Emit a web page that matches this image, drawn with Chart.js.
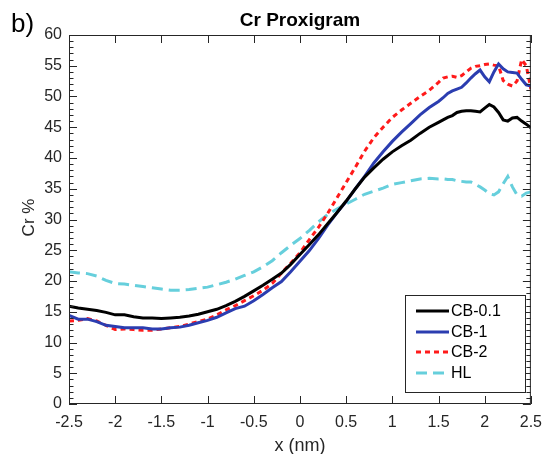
<!DOCTYPE html>
<html>
<head>
<meta charset="utf-8">
<script src="https://cdn.jsdelivr.net/npm/chart.js@4"></script>
<style>
  html, body { margin: 0; padding: 0; background: #fff; }
  #wrap { width: 551px; height: 454px; position: relative; }
</style>
</head>
<body>
<div id="wrap"><canvas id="prox"></canvas></div>
<script>
// ---- data ----
const xs = [
  -2.5, -2.4, -2.3, -2.2, -2.1, -2.0, -1.9, -1.8, -1.7, -1.6, -1.5, -1.4, -1.3, -1.2, -1.1,
  -1.0, -0.9, -0.8, -0.7, -0.6, -0.5, -0.4, -0.3, -0.2, -0.1, 0.0, 0.1, 0.2, 0.3, 0.4,
  0.5, 0.6, 0.7, 0.8, 0.9, 1.0, 1.1, 1.2, 1.3, 1.4, 1.5,
  1.55, 1.6, 1.65, 1.7, 1.75, 1.8, 1.85, 1.9, 1.95, 2.0, 2.05, 2.1, 2.15, 2.2, 2.25, 2.3, 2.35, 2.4, 2.45, 2.5
];
const cb01 = [
  15.9, 15.6, 15.4, 15.2, 14.9, 14.5, 14.5, 14.2, 14.0, 14.0, 13.9, 14.0, 14.1, 14.3, 14.6,
  15.0, 15.4, 16.0, 16.7, 17.5, 18.4, 19.3, 20.3, 21.3, 22.7, 24.3, 25.9, 27.5, 29.3, 31.1,
  33.0, 35.0, 36.9, 38.4, 39.8, 41.0, 42.0, 42.9, 44.0, 45.0, 45.8,
  46.2, 46.6, 46.9, 47.4, 47.6, 47.7, 47.7, 47.6, 47.5, 48.1, 48.7, 48.3, 47.4, 46.2, 46.0, 46.5, 46.6, 46.0, 45.5, 44.9
];
const cb1 = [
  14.4, 13.8, 13.8, 13.4, 12.8, 12.6, 12.4, 12.4, 12.4, 12.2, 12.2, 12.4, 12.5, 12.8, 13.2,
  13.6, 14.1, 14.8, 15.5, 15.9, 16.8, 17.8, 18.9, 19.9, 21.5, 23.2, 24.9, 26.9, 29.1, 31.1,
  32.9, 35.0, 37.0, 39.2, 41.0, 42.7, 44.2, 45.6, 47.0, 48.2, 49.2,
  49.8, 50.5, 50.9, 51.2, 51.5, 52.2, 53.0, 53.7, 54.3, 53.2, 52.4, 54.0, 55.3, 54.5, 54.0, 53.9, 53.8, 52.8, 51.9, 51.7
];
const cb2 = [
  13.5, 13.6, 13.9, 13.5, 12.8, 12.1, 12.2, 12.1, 12.0, 12.0, 12.2, 12.4, 12.6, 13.0, 13.4,
  13.8, 14.5, 15.3, 16.0, 16.8, 17.6, 18.5, 19.6, 21.3, 22.9, 24.6, 26.7, 28.7, 31.0, 33.5,
  36.0, 38.5, 41.1, 43.3, 45.0, 46.6, 47.8, 48.9, 50.0, 51.0, 52.3,
  53.0, 53.2, 53.3, 53.1, 53.4, 54.0, 54.6, 54.9, 55.0, 55.2, 55.3, 55.1, 55.0, 52.6, 52.0, 51.7, 52.5, 56.0, 55.0, 51.2
];
const hl = [
  21.5, 21.3, 21.2, 20.8, 20.1, 19.6, 19.5, 19.3, 19.1, 18.9, 18.7, 18.5, 18.5, 18.6, 18.8,
  19.0, 19.4, 19.8, 20.3, 20.9, 21.5, 22.3, 23.3, 24.6, 25.8, 26.9, 28.2, 29.6, 30.8, 31.7,
  32.5, 33.3, 34.1, 34.6, 35.1, 35.7, 36.0, 36.3, 36.6, 36.7, 36.6,
  36.6, 36.5, 36.5, 36.3, 36.2, 36.1, 36.1, 35.7, 35.3, 34.8, 34.2, 34.0, 34.5, 35.8, 37.0, 35.3, 34.0, 33.8, 34.3, 34.5
];
const seriesNames = ['CB-0.1', 'CB-1', 'CB-2', 'HL'];
const xTicks = [-2.5, -2, -1.5, -1, -0.5, 0, 0.5, 1, 1.5, 2, 2.5];
const yTicks = [0, 5, 10, 15, 20, 25, 30, 35, 40, 45, 50, 55, 60];

const pts = ys => xs.map((x, i) => ({ x: x, y: ys[i] }));
const FONT = '"Liberation Sans", Arial, sans-serif';
const AXC = '#262626';

// box, inward ticks, legend and titles (matlab look)
const frame = {
  id: 'frame',
  afterDraw(chart) {
    const c = chart.ctx, a = chart.chartArea;
    const sx = chart.scales.x, sy = chart.scales.y;
    c.save();
    c.strokeStyle = AXC;
    c.lineWidth = 1;
    c.strokeRect(a.left + 0.5, a.top + 0.5, a.right - a.left - 1, a.bottom - a.top - 1);
    c.beginPath();
    xTicks.forEach(v => {
      const px = Math.round(sx.getPixelForValue(v)) + 0.5;
      c.moveTo(px, a.bottom); c.lineTo(px, a.bottom - 8);
      c.moveTo(px, a.top); c.lineTo(px, a.top + 8);
    });
    for (let v = 0; v <= 60; v++) {
      const py = Math.round(sy.getPixelForValue(v)) + 0.5;
      const len = v % 5 === 0 ? 8 : 4.5;
      c.moveTo(a.left, py); c.lineTo(a.left + len, py);
      c.moveTo(a.right, py); c.lineTo(a.right - len, py);
    }
    c.stroke();

    // legend
    const bx = 405, by = 295, bw = 120, bh = 97;
    c.fillStyle = '#fff';
    c.fillRect(bx, by, bw, bh);
    c.strokeRect(bx + 0.5, by + 0.5, bw, bh);
    const rows = [311, 332, 352, 373];
    chart.data.datasets.forEach((ds, i) => {
      c.beginPath();
      c.strokeStyle = ds.borderColor;
      c.lineWidth = ds.borderWidth;
      c.setLineDash(ds.borderDash || []);
      c.moveTo(416, rows[i]); c.lineTo(449, rows[i]);
      c.stroke();
      c.setLineDash([]);
      c.fillStyle = '#000';
      c.font = '16px ' + FONT;
      c.textAlign = 'left';
      c.textBaseline = 'middle';
      c.fillText(ds.label, 451, rows[i] + 1);
    });

    // titles
    c.fillStyle = '#000';
    c.textAlign = 'center';
    c.textBaseline = 'alphabetic';
    c.font = 'bold 19px ' + FONT;
    c.fillText('Cr Proxigram', (a.left + a.right) / 2, 26);
    c.textBaseline = 'middle';
    c.fillStyle = AXC;
    c.font = '18px ' + FONT;
    c.fillText('x (nm)', (a.left + a.right) / 2, 446);
    c.save();
    c.translate(29, (a.top + a.bottom) / 2 - 2);
    c.rotate(-Math.PI / 2);
    c.font = '17px ' + FONT;
    c.fillText('Cr %', 0, 0);
    c.restore();
    c.fillStyle = '#000';
    c.textAlign = 'left';
    c.textBaseline = 'alphabetic';
    c.font = '26px ' + FONT;
    c.fillText('b)', 11, 32);
    c.restore();
  }
};

new Chart(document.getElementById('prox'), {
  type: 'scatter',
  data: {
    datasets: [
      { label: seriesNames[0], data: pts(cb01), borderColor: '#000000', borderWidth: 3 },
      { label: seriesNames[1], data: pts(cb1), borderColor: '#2b3db0', borderWidth: 3 },
      { label: seriesNames[2], data: pts(cb2), borderColor: '#ff1a1a', borderWidth: 3, borderDash: [5, 4] },
      { label: seriesNames[3], data: pts(hl), borderColor: '#66cfdc', borderWidth: 3, borderDash: [11, 6] }
    ].map(d => Object.assign(d, { showLine: true, pointRadius: 0, fill: false, tension: 0 }))
  },
  options: {
    responsive: true,
    maintainAspectRatio: false,
    animation: false,
    layout: { padding: { left: 0, top: 35, right: 12, bottom: 0 } },
    plugins: { legend: { display: false }, tooltip: { enabled: false } },
    scales: {
      x: {
        type: 'linear', min: -2.5, max: 2.5,
        afterBuildTicks: s => { s.ticks = xTicks.map(v => ({ value: v })); },
        afterFit: s => { s.height = 50; },
        grid: { display: false, drawTicks: false }, border: { display: false },
        ticks: { autoSkip: false, maxRotation: 0, padding: 9, color: AXC, font: { family: FONT, size: 16 },
                 callback: v => String(v) }
      },
      y: {
        min: 0, max: 60,
        afterBuildTicks: s => { s.ticks = yTicks.map(v => ({ value: v })); },
        afterFit: s => { s.width = 69; },
        grid: { display: false, drawTicks: false }, border: { display: false },
        ticks: { padding: 7, color: AXC, font: { family: FONT, size: 16 } }
      }
    }
  },
  plugins: [frame]
});
</script>
</body>
</html>
